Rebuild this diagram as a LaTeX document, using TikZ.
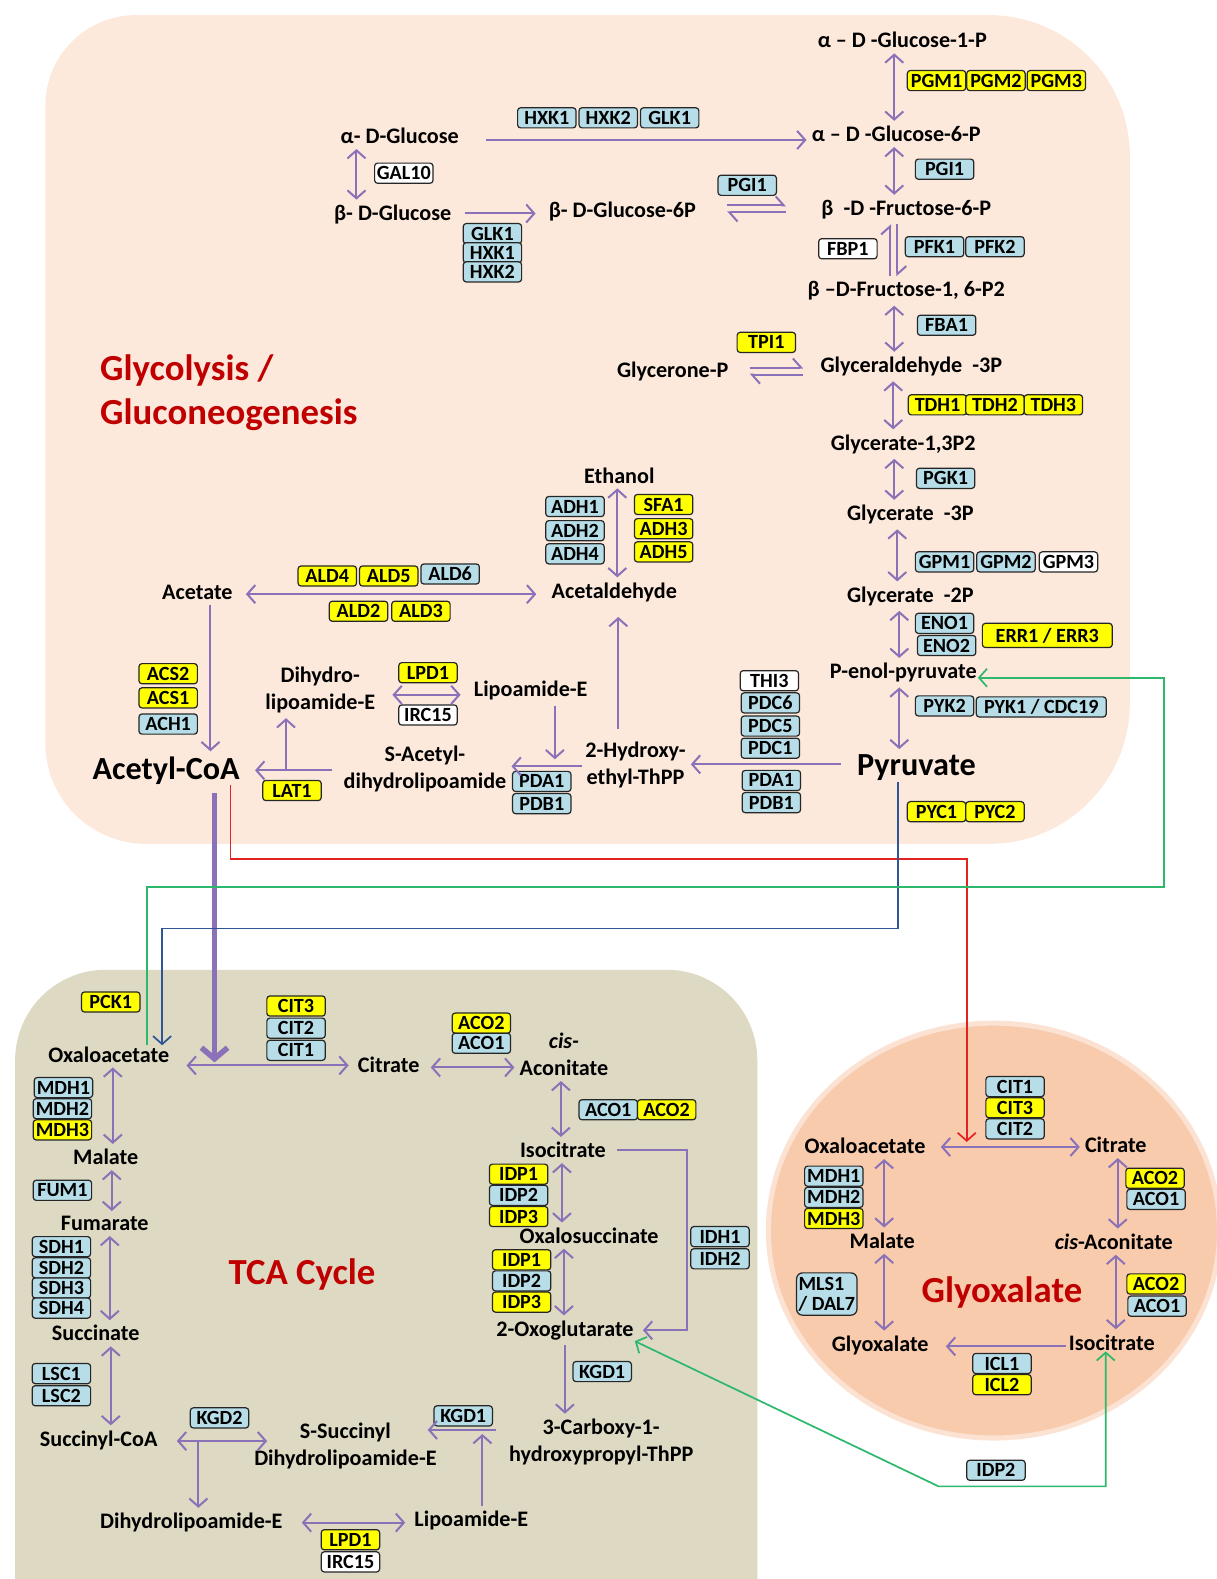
\documentclass[tikz,border=0pt]{standalone}
\usepackage{fontspec}
\setmainfont{Carlito}
\usetikzlibrary{arrows.meta}

\definecolor{glybg}{HTML}{FCE9DB}
\definecolor{tcabg}{HTML}{DDD9C3}
\definecolor{gxbg}{HTML}{F8CBAD}
\definecolor{gxrim}{HTML}{FBE2D2}
\definecolor{enzblue}{HTML}{B7DEE8}
\definecolor{enzyel}{HTML}{FFFF00}
\definecolor{arr}{HTML}{8B72B8}
\definecolor{ttlred}{HTML}{C00000}
\definecolor{lnred}{HTML}{E32322}
\definecolor{lnblue}{HTML}{2F5597}
\definecolor{lngreen}{HTML}{2DB86B}

\begin{document}
\begin{tikzpicture}[x=1pt,y=-1pt,
    met/.style={font=\fontsize{22}{27}\selectfont\bfseries, inner sep=1pt, align=center},
    bigmet/.style={font=\fontsize{32}{34}\selectfont\bfseries, inner sep=1pt},
    ttl/.style={font=\fontsize{36.5}{44}\selectfont\bfseries, text=ttlred, align=left},
    enz/.style={draw=black!85, line width=1.2pt, rounded corners=3pt, minimum width=58pt,
        minimum height=20pt, inner sep=0pt, font=\fontsize{20}{20}\selectfont\bfseries},
    blu/.style={enz, fill=enzblue},
    ylw/.style={enz, fill=enzyel},
    wht/.style={enz, fill=white},
    rx/.style={draw=arr, line width=2pt, shorten <=4pt, shorten >=4pt,
        -{Straight Barb[length=8pt,width=18pt]}},
    rv/.style={rx, {Straight Barb[length=8pt,width=18pt]}-{Straight Barb[length=8pt,width=18pt]}},
    hp/.style={draw=arr, line width=2pt, -{Straight Barb[length=8pt,width=18pt,harpoon]}},
    lnk/.style={line width=1.7pt, -{Straight Barb[length=8pt,width=18pt]}},
  ]
  \useasboundingbox (0,0) rectangle (1208,1568);

  % compartments
  \fill[glybg] (45,400) [rounded corners=90pt] -- (45,15) [rounded corners=140pt] -- (1122,15)
    -- (1122,838) [rounded corners=100pt] -- (45,838) -- cycle;
  \fill[tcabg, rounded corners=90pt] (15,1700) -- (15,963) -- (752,963) -- (752,1700) -- cycle;
  \filldraw[fill=gxbg, draw=gxrim, line width=5pt] (987,1222) ellipse (224 and 206);

  % ---------------- glycolysis ----------------
  \node[met] (ag1p) at (896,40) {α – D -Glucose-1-P};
  \node[met] (ag6p) at (890,133) {α – D -Glucose-6-P};
  \node[met] (aglc) at (397,135) {α- D-Glucose};
  \node[met] (bglc) at (390,213) {β- D-Glucose};
  \node[met] (bg6p) at (618,210) {β- D-Glucose-6P};
  \node[met] (bf6p) at (900,208) {β \ -D -Fructose-6-P};
  \node[met] (bf16) at (900,289) {β –D-Fructose-1, 6-P2};
  \node[met] (gap) at (905,364) {Glyceraldehyde \ -3P};
  \node[met] (dhap) at (668,369) {Glycerone-P};
  \node[met] (g13p) at (897,441) {Glycerate-1,3P2};
  \node[met] (g3p) at (904,511) {Glycerate \ -3P};
  \node[met] (g2p) at (904,592) {Glycerate \ -2P};
  \node[met] (pep) at (897,668) {P-enol-pyruvate};
  \node[bigmet] (pyr) at (910,762) {Pyruvate};
  \node[met] (etoh) at (615,472) {Ethanol};
  \node[met] (acald) at (610,588) {Acetaldehyde};
  \node[met] (acet) at (196,588) {Acetate};
  \node[bigmet] (accoa) at (165,765) {Acetyl-CoA};
  \node[met] (dhlip) at (318,685) {Dihydro-\\lipoamide-E};
  \node[met] (lip) at (527,686) {Lipoamide-E};
  \node[met] (sacet) at (422,764) {S-Acetyl-\\dihydrolipoamide};
  \node[met] (hethpp) at (631,760) {2-Hydroxy-\\ethyl-ThPP};
  \node[ttl, anchor=west] (gtitle) at (96,390) {Glycolysis /\\Gluconeogenesis};

  \node[blu] (hxk1a) at (543,117) {HXK1};
  \node[blu] (hxk2a) at (604,117) {HXK2};
  \node[blu] (glk1a) at (665,117) {GLK1};
  \foreach \n/\x in {1/930,2/989,3/1049}
    \node[ylw] (pgm\n) at (\x,80) {PGM\n};
  \node[wht] (gal10) at (401,172) {GAL10};
  \node[blu] (pgi1a) at (742,184) {PGI1};
  \node[blu] (glk1b) at (489,232) {GLK1};
  \node[blu] (hxk1b) at (489,251) {HXK1};
  \node[blu] (hxk2b) at (489,270) {HXK2};
  \node[blu] (pgi1b) at (938,168) {PGI1};
  \node[wht] (fbp1) at (842,247) {FBP1};
  \node[blu] (pfk1) at (928,245) {PFK1};
  \node[blu] (pfk2) at (988,245) {PFK2};
  \node[blu] (fba1) at (940,323) {FBA1};
  \node[ylw] (tpi1) at (761,340) {TPI1};
  \foreach \n/\x in {1/931,2/988,3/1046}
    \node[ylw] (tdh\n) at (\x,402) {TDH\n};
  \node[blu] (pgk1) at (939,475) {PGK1};
  \node[blu] (gpm1) at (938,558) {GPM1};
  \node[blu] (gpm2) at (999,558) {GPM2};
  \node[wht] (gpm3) at (1061,558) {GPM3};
  \node[blu] (eno1) at (938,619) {ENO1};
  \node[blu] (eno2) at (940,641) {ENO2};
  \node[ylw, minimum width=129pt, minimum height=24pt] (err) at (1040,631) {ERR1 / ERR3};
  \node[blu] (pyk2) at (938,701) {PYK2};
  \node[blu, minimum width=129pt] (pyk1) at (1034,702) {PYK1 / CDC19};
  \node[ylw] (pyc1) at (930,806) {PYC1};
  \node[ylw] (pyc2) at (988,806) {PYC2};
  \node[wht] (thi3) at (764,676) {THI3};
  \node[blu] (pdc6) at (765,698) {PDC6};
  \node[blu] (pdc5) at (765,721) {PDC5};
  \node[blu] (pdc1) at (765,743) {PDC1};
  \node[blu] (pda1a) at (766,775) {PDA1};
  \node[blu] (pdb1a) at (766,797) {PDB1};
  \node[blu] (adh1) at (571,503) {ADH1};
  \node[blu] (adh2) at (571,527) {ADH2};
  \node[blu] (adh4) at (571,550) {ADH4};
  \node[ylw] (sfa1) at (659,501) {SFA1};
  \node[ylw] (adh3) at (659,525) {ADH3};
  \node[ylw] (adh5) at (659,548) {ADH5};
  \node[ylw] (ald4) at (325,572) {ALD4};
  \node[ylw] (ald5) at (386,572) {ALD5};
  \node[blu] (ald6) at (447,570) {ALD6};
  \node[ylw] (ald2) at (356,607) {ALD2};
  \node[ylw] (ald3) at (418,607) {ALD3};
  \node[ylw] (acs2) at (167,669) {ACS2};
  \node[ylw] (acs1) at (167,693) {ACS1};
  \node[blu] (ach1) at (167,719) {ACH1};
  \node[ylw] (lpd1a) at (425,668) {LPD1};
  \node[wht] (irc15a) at (425,710) {IRC15};
  \node[ylw] (lat1) at (290,785) {LAT1};
  \node[blu] (pda1b) at (538,776) {PDA1};
  \node[blu] (pdb1b) at (538,798) {PDB1};

  \coordinate (jlip) at (551,754);
  \coordinate (jsac) at (284,765);

  \draw[rx, shorten <=26pt] (aglc.east |- 0,139) -- (ag6p.west |- 0,139);
  \draw[rv] (aglc.south -| 354,0) -- (bglc.north -| 354,0);
  \draw[rx, shorten <=12pt, shorten >=12pt] (bglc.east |- 0,212) -- (bg6p.west |- 0,212);
  \draw[hp, shorten <=30pt, shorten >=34pt] (bg6p.east |- 0,204) -- (bf6p.west |- 0,204);
  \draw[hp, shorten <=34pt, shorten >=30pt] (bf6p.west |- 0,211) -- (bg6p.east |- 0,211);
  \draw[rv] (ag1p.south -| 888,0) -- (ag6p.north -| 888,0);
  \draw[rv] (ag6p.south -| 888,0) -- (bf6p.north -| 888,0);
  \draw[hp, shorten <=4pt, shorten >=4pt] (bf16.north -| 884,0) -- (bf6p.south -| 884,0);
  \draw[hp, shorten <=4pt, shorten >=4pt] (bf6p.south -| 891,0) -- (bf16.north -| 891,0);
  \draw[rv] (bf16.south -| 888,0) -- (gap.north -| 888,0);
  \draw[hp, shorten <=20pt, shorten >=16pt] (dhap.east |- 0,365) -- (gap.west |- 0,365);
  \draw[hp, shorten <=16pt, shorten >=20pt] (gap.west |- 0,372) -- (dhap.east |- 0,372);
  \draw[rv] (gap.south -| 887,0) -- (g13p.north -| 887,0);
  \draw[rv] (g13p.south -| 888,0) -- (g3p.north -| 888,0);
  \draw[rv] (g3p.south -| 891,0) -- (g2p.north -| 891,0);
  \draw[rv] (g2p.south -| 893,0) -- (pep.north -| 893,0);
  \draw[rv] (pep.south -| 893,0) -- (pyr.north -| 893,0);
  \draw[rx, shorten <=15pt] (pyr.west |- 0,759) -- (hethpp.east |- 0,759);
  \draw[rx, shorten <=12pt, shorten >=14pt] (hethpp.north -| 614,0) -- (acald.south -| 614,0);
  \draw[rv] (etoh.south -| 613,0) -- (acald.north -| 613,0);
  \draw[rv, shorten <=12pt, shorten >=14pt] (acet.east |- 0,590) -- (acald.west |- 0,590);
  \draw[rx] (acet.south -| 209,0) -- (accoa.north -| 209,0);
  \draw[rx, shorten >=0pt] (lip.south -| jlip) -- (jlip);
  \draw[rx, shorten <=2pt] (hethpp.west |- 0,761) -- (sacet.east |- 0,761);
  \draw[rv, shorten <=16pt, shorten >=12pt] (dhlip.east |- 0,690) -- (lip.west |- 0,690);
  \draw[rx, shorten <=10pt, shorten >=14pt] (sacet.west |- 0,765) -- (accoa.east |- 0,765);
  \draw[rx, shorten <=0pt] (jsac) -- (dhlip.south -| jsac);

  % ---------------- TCA cycle ----------------
  \node[met] (tox) at (108,1047) {Oxaloacetate};
  \node[met] (tcit) at (386,1057) {Citrate};
  \node[met] (taco) at (560,1047) {\textit{cis-}\\Aconitate};
  \node[met] (tiso) at (559,1142) {Isocitrate};
  \node[met] (toxs) at (585,1227) {Oxalosuccinate};
  \node[met] (t2og) at (561,1321) {2-Oxoglutarate};
  \node[met] (tcar) at (597,1432) {3-Carboxy-1-\\hydroxypropyl-ThPP};
  \node[met] (tssu) at (343,1436) {S-Succinyl\\Dihydrolipoamide-E};
  \node[met] (tsca) at (98,1430) {Succinyl-CoA};
  \node[met] (tsuc) at (95,1324) {Succinate};
  \node[met] (tfum) at (104,1215) {Fumarate};
  \node[met] (tmal) at (105,1149) {Malate};
  \node[met] (tdhl) at (190,1512) {Dihydrolipoamide-E};
  \node[met] (tlip) at (468,1510) {Lipoamide-E};
  \node[ttl] (ttitle) at (300,1266) {TCA Cycle};

  \node[ylw] (pck1) at (110,995) {PCK1};
  \node[ylw] (cit3a) at (294,999) {CIT3};
  \node[blu] (cit2a) at (294,1021) {CIT2};
  \node[blu] (cit1a) at (294,1043) {CIT1};
  \node[ylw] (aco2a) at (478,1016) {ACO2};
  \node[blu] (aco1a) at (478,1036) {ACO1};
  \node[blu] (aco1b) at (604,1102) {ACO1};
  \node[ylw] (aco2b) at (662,1102) {ACO2};
  \node[blu] (mdh1a) at (63,1080) {MDH1};
  \node[blu] (mdh2a) at (62,1101) {MDH2};
  \node[ylw] (mdh3a) at (62,1122) {MDH3};
  \node[blu] (fum1) at (62,1182) {FUM1};
  \foreach \n/\y in {1/1238,2/1259,3/1279,4/1299}
    \node[blu] (sdh\n) at (61,\y) {SDH\n};
  \node[blu] (lsc1) at (61,1364) {LSC1};
  \node[blu] (lsc2) at (61,1386) {LSC2};
  \node[ylw] (idp1a) at (515,1166) {IDP1};
  \node[blu] (idp2a) at (515,1187) {IDP2};
  \node[ylw] (idp3a) at (515,1208) {IDP3};
  \node[ylw] (idp1b) at (518,1251) {IDP1};
  \node[blu] (idp2b) at (518,1272) {IDP2};
  \node[ylw] (idp3b) at (518,1293) {IDP3};
  \node[blu] (idh1) at (715,1228) {IDH1};
  \node[blu] (idh2) at (715,1250) {IDH2};
  \node[blu] (kgd1a) at (598,1362) {KGD1};
  \node[blu] (kgd1b) at (460,1406) {KGD1};
  \node[blu] (kgd2) at (218,1408) {KGD2};
  \node[ylw] (lpd1b) at (348,1529) {LPD1};
  \node[wht] (irc15b) at (348,1551) {IRC15};

  \coordinate (tjoin) at (213,1055);
  \coordinate (tiright) at (682,1230);
  \coordinate (tjcar) at (479,1424);
  \coordinate (tjsca) at (197,1431);

  \draw[rv, shorten <=16pt, shorten >=8pt] (tox.east |- 0,1058) -- (tcit.west |- 0,1058);
  \draw[rv, shorten <=10pt, shorten >=4pt] (tcit.east |- 0,1060) -- (taco.west |- 0,1060);
  \draw[rv] (taco.south -| 557,0) -- (tiso.north -| 557,0);
  \draw[rv] (tiso.south -| 558,0) -- (toxs.north -| 558,0);
  \draw[rv] (toxs.south -| 560,0) -- (t2og.north -| 560,0);
  \draw[rx, shorten <=10pt, shorten >=8pt] (tiso.east) -| (tiright) |- (t2og.east);
  \draw[rx] (t2og.south -| 561,0) -- (tcar.north -| 561,0);
  \draw[rx, shorten <=12pt, shorten >=-10pt] (tcar.west |- 0,1420) -- (tssu.east |- 0,1420);
  \draw[rx, shorten >=0pt] (tlip.north -| tjcar) -- (tjcar);
  \draw[rv, shorten <=18pt, shorten >=-14pt] (tsca.east |- 0,1431) -- (tssu.west |- 0,1431);
  \draw[rx, shorten <=0pt] (tjsca) -- (tdhl.north -| tjsca);
  \draw[rv, shorten <=18pt, shorten >=8pt] (tdhl.east |- 0,1512) -- (tlip.west |- 0,1512);
  \draw[rv] (tsuc.south -| 110,0) -- (tsca.north -| 110,0);
  \draw[rv] (tfum.south -| 109,0) -- (tsuc.north -| 109,0);
  \draw[rv] (tmal.south -| 111,0) -- (tfum.north -| 111,0);
  \draw[rv] (tox.south -| 112,0) -- (tmal.north -| 112,0);

  % ---------------- glyoxalate ----------------
  \node[met] (gox) at (859,1138) {Oxaloacetate};
  \node[met] (gcit) at (1108,1137) {Citrate};
  \node[met] (gmal) at (876,1232) {Malate};
  \node[met] (gcis) at (1106,1233) {\textit{cis}-Aconitate};
  \node[met] (ggly) at (874,1336) {Glyoxalate};
  \node[met] (giso) at (1104,1333) {Isocitrate};
  \node[ttl] (gtitle2) at (995,1283) {Glyoxalate};

  \node[blu] (cit1b) at (1008,1079) {CIT1};
  \node[ylw] (cit3b) at (1008,1100) {CIT3};
  \node[blu] (cit2b) at (1008,1121) {CIT2};
  \node[blu] (mdh1b) at (828,1168) {MDH1};
  \node[blu] (mdh2b) at (828,1189) {MDH2};
  \node[ylw] (mdh3b) at (828,1210) {MDH3};
  \node[ylw] (aco2c) at (1147,1170) {ACO2};
  \node[blu] (aco1c) at (1148,1191) {ACO1};
  \node[blu, minimum width=60pt, minimum height=42pt, align=left, rounded corners=6pt,
        font=\fontsize{20}{20}\selectfont\bfseries] (mls1) at (821,1285) {MLS1\\/ DAL7};
  \node[ylw] (aco2d) at (1148,1275) {ACO2};
  \node[blu] (aco1d) at (1149,1297) {ACO1};
  \node[blu] (icl1) at (995,1354) {ICL1};
  \node[ylw] (icl2) at (995,1375) {ICL2};
  \node[blu] (idp2c) at (989,1460) {IDP2};

  \coordinate (gjoin) at (960,1134);
  \coordinate (gcorner) at (1098,1476);
  \coordinate (gbend) at (932,1476);

  \draw[rv, shorten <=14pt, shorten >=4pt] (gox.east |- 0,1139) -- (gcit.west |- 0,1139);
  \draw[rv] (gcit.south -| 1110,0) -- (gcis.north -| 1110,0);
  \draw[rv] (gcis.south -| 1108,0) -- (giso.north -| 1108,0);
  \draw[rx, shorten <=2pt, shorten >=16pt] (giso.west |- 0,1337) -- (ggly.east |- 0,1337);
  \draw[rv] (ggly.north -| 878,0) -- (gmal.south -| 878,0);
  \draw[rv] (gmal.north -| 878,0) -- (gox.south -| 878,0);

  % ---------------- links ----------------
  \coordinate (redk) at (960,853);
  \coordinate (bluek) at (161,922);
  \coordinate (greenk) at (1156,881);
  \draw[draw=arr, line width=5.5pt, shorten <=8pt, -{Straight Barb[length=11pt,width=26pt]}]
    (accoa.south -| tjoin) -- (tjoin);
  \draw[lnk, draw=lnred] (accoa.south -| 229,0) |- (redk) -- (gjoin);
  \draw[lnk, draw=lnblue] (pyr.south -| 892,0) |- (bluek) -- (tox.north -| bluek);
  \draw[lnk, draw=lngreen] (tox.north -| 146,0) |- (greenk) |- ([yshift=-5pt]pep.east);
  \draw[lnk, draw=lngreen, {Straight Barb[length=8pt,width=18pt]}-{Straight Barb[length=8pt,width=18pt]}]
    (t2og.south east) -- (gbend) -- (gcorner) -- (giso.south -| gcorner);
\end{tikzpicture}
\end{document}
